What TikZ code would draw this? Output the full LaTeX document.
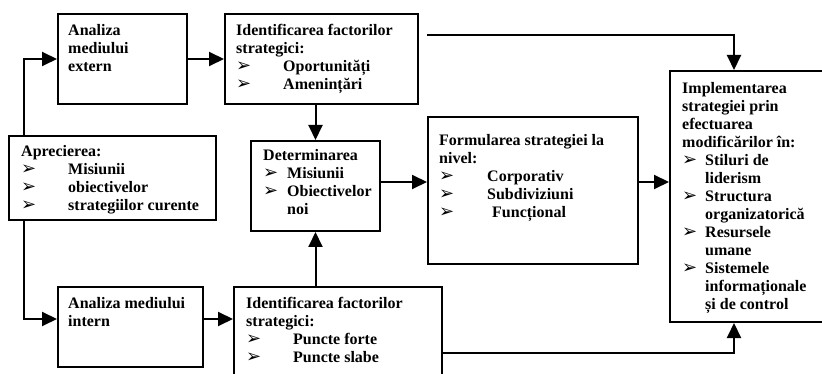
\documentclass[tikz,border=0pt]{standalone}
\usepackage{fontspec}
\setmainfont{Liberation Serif}
\newfontfamily\arrowfont{DejaVu Sans}
\usetikzlibrary{arrows.meta,calc}
% bullet followed by the item text, indented by #1
\newcommand\itm[2]{\makebox[#1][l]{{\arrowfont\fontsize{18}{18}\selectfont ➢}}#2}
\begin{document}
\begin{tikzpicture}[x=1pt,y=-1pt,
  box/.style={draw,line width=2pt,inner sep=0pt,anchor=north west},
  txt/.style={anchor=north west,inner sep=0pt,align=left,
    font=\fontsize{16}{18}\selectfont\bfseries},
  arr/.style={line width=2pt,-{Triangle[length=15pt,width=14pt]}},
  ln/.style={line width=2pt}]
\useasboundingbox (0,0) rectangle (822,374);

% boxes
\node[box,minimum width=129pt,minimum height=90pt] (ext) at (57,13) {};
\node[box,minimum width=193pt,minimum height=90pt] (topf) at (224,13) {};
\node[box,minimum width=207pt,minimum height=84pt] (apr) at (8,135) {};
\node[box,minimum width=129pt,minimum height=90pt] (det) at (250,140) {};
\node[box,minimum width=210pt,minimum height=147pt] (form) at (427,116) {};
\node[box,minimum width=156pt,minimum height=251pt] (impl) at (669,70) {};
\node[box,minimum width=145pt,minimum height=80pt] (int) at (57,286) {};
\node[box,minimum width=208pt,minimum height=96pt] (botf) at (233,286) {};

% texts
\node[txt] (extT) at (68,22.4) {\strut Analiza\\mediului\\extern};
\node[txt] (topfT) at (236,22.4) {\strut Identificarea factorilor\\strategici:\\
  \itm{47pt}{Oportunități}\\\itm{47pt}{Amenințări}};
\node[txt] (aprT) at (21,143.4) {\strut Aprecierea:\\\itm{47pt}{Misiunii}\\
  \itm{47pt}{obiectivelor}\\\itm{47pt}{strategiilor curente}};
\node[txt] (detT) at (263,148.1) {\strut Determinarea\\\itm{24pt}{Misiunii}\\
  \itm{24pt}{Obiectivelor}\\\hspace*{24pt}noi};
\node[txt] (formT) at (439,132.4) {\strut Formularea strategiei la\\nivel:\\
  \itm{48pt}{Corporativ}\\\itm{48pt}{Subdiviziuni}\\\itm{53pt}{Funcțional}};
\node[txt] (implT) at (682,80.4) {\strut Implementarea\\strategiei prin\\efectuarea\\
  modificărilor în:\\\itm{23pt}{Stiluri de}\\\hspace*{23pt}liderism\\
  \itm{23pt}{Structura}\\\hspace*{23pt}organizatorică\\
  \itm{23pt}{Resursele}\\\hspace*{23pt}umane\\
  \itm{23pt}{Sistemele}\\\hspace*{23pt}informaționale\\\hspace*{23pt}și de control};
\node[txt] (intT) at (68,295.4) {\strut Analiza mediului\\intern};
\node[txt] (botfT) at (246,295.4) {\strut Identificarea factorilor\\strategici:\\
  \itm{47pt}{Puncte forte}\\\itm{47pt}{Puncte slabe}};

% connectors
\coordinate (ts) at (427,35);
\coordinate (bs) at (441,353);
\draw[arr] ($(apr.north west)+(16,0)$) |- (ext.west);
\draw[arr] ($(apr.south west)+(16,0)$) |- ($(int.north west)+(0,33)$);
\draw[arr] (ext.east) -- (topf.west);
\draw[arr] ($(int.north east)+(0,33)$) -- ($(botf.north west)+(0,33)$);
\draw[arr] (det.north |- topf.south) -- (det.north);
\draw[arr] (det.south |- botf.north) -- (det.south);
\draw[arr] ($(det.north east)+(0,42)$) -- ($(form.north west)+(0,66)$);
\draw[arr] ($(form.north east)+(0,66)$) -- ($(impl.north west)+(0,112)$);
\draw[arr] (ts) -| ($(impl.north west)+(65,0)$);
\draw[arr] (bs) -| ($(impl.south west)+(65,0)$);
\end{tikzpicture}
\end{document}
